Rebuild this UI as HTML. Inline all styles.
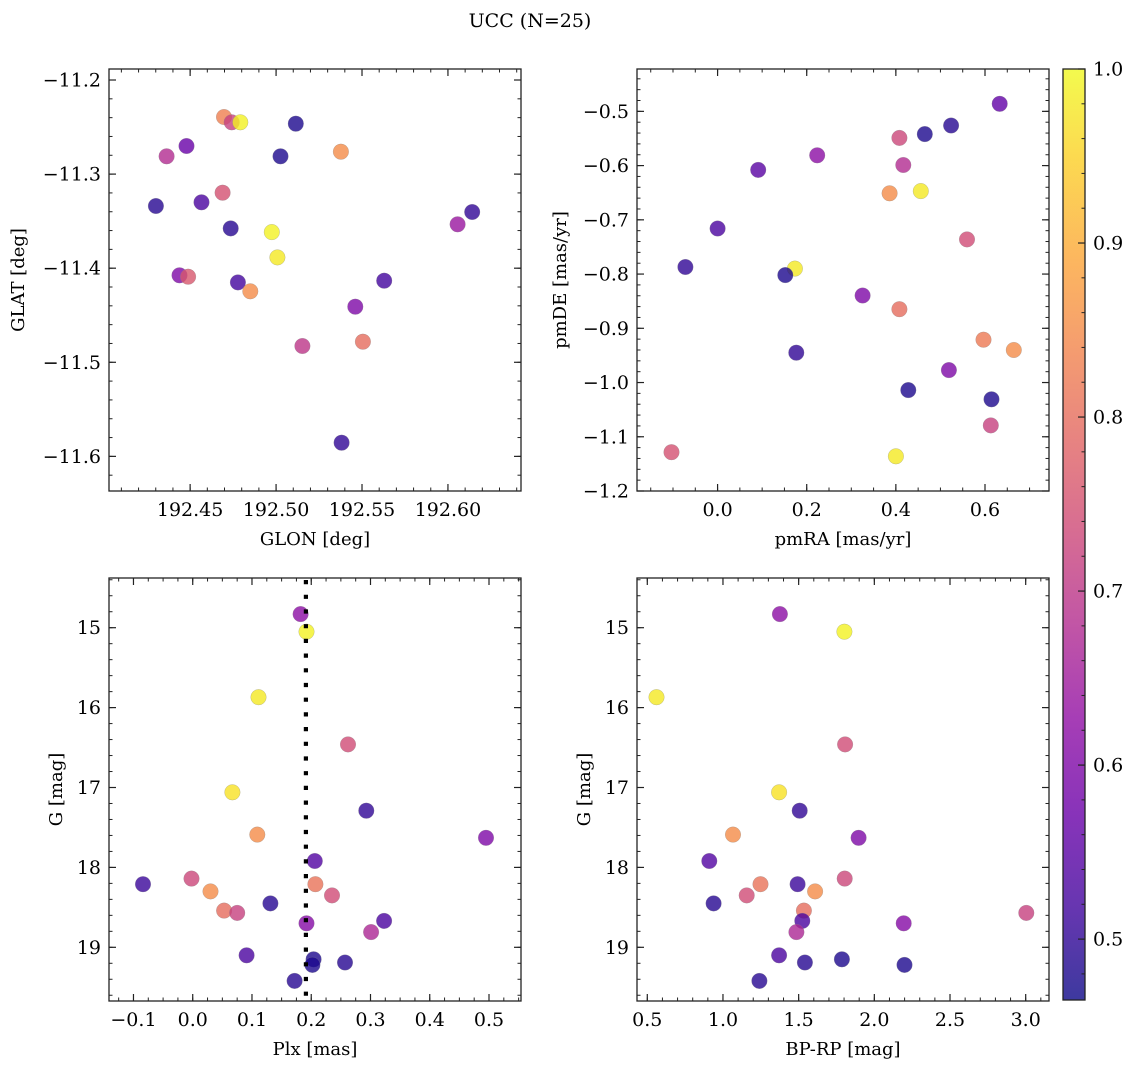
<!DOCTYPE html>
<html><head><meta charset="utf-8"><style>
html,body{margin:0;padding:0;background:#fff;}
svg{display:block;}
svg text{font-family:"DejaVu Serif","Liberation Serif",serif;}
</style></head><body>
<svg id="fig" width="1136" height="1068" viewBox="0 0 1136 1068" xmlns="http://www.w3.org/2000/svg" font-family="DejaVu Serif, Liberation Serif, serif">
<defs>
<linearGradient id="cbgrad" x1="0" y1="1" x2="0" y2="0">
<stop offset="0" stop-color="#0d0887"/><stop offset="0.1" stop-color="#41049d"/><stop offset="0.2" stop-color="#6a00a8"/><stop offset="0.3" stop-color="#8f0da4"/><stop offset="0.4" stop-color="#b12a90"/><stop offset="0.5" stop-color="#cc4778"/><stop offset="0.6" stop-color="#e16462"/><stop offset="0.7" stop-color="#f2844b"/><stop offset="0.8" stop-color="#fca636"/><stop offset="0.9" stop-color="#fcce25"/><stop offset="1" stop-color="#f0f921"/>
</linearGradient>
</defs>
<text x="530" y="27" font-size="19" text-anchor="middle">UCC (N=25)</text>
</svg>
<script>
// Panel 1: GLON / GLAT
const glon = [192.4697,192.4742,192.4792,192.5115,192.5377,192.4479,192.4363,192.5026,192.4689,192.4566,192.4301,192.6141,192.6056,192.4736,192.4975,192.5008,192.4438,192.4488,192.4778,192.4850,192.5629,192.5461,192.5153,192.5505,192.5381];
const glat = [-11.2393,-11.2450,-11.2450,-11.2464,-11.2762,-11.2701,-11.2811,-11.2811,-11.3198,-11.3300,-11.3339,-11.3403,-11.3534,-11.3577,-11.3616,-11.3885,-11.4076,-11.4090,-11.4151,-11.4246,-11.4133,-11.4409,-11.4827,-11.4781,-11.5855];
const probA = [0.83,0.72,0.99,0.48,0.85,0.57,0.68,0.48,0.75,0.53,0.49,0.50,0.64,0.49,0.99,0.98,0.60,0.76,0.52,0.85,0.52,0.60,0.70,0.80,0.50];
// Panel 2: pmRA / pmDE
const pmra = [0.633,0.524,0.465,0.408,0.2235,0.4166,0.0912,0.386,0.456,0.0,0.5596,-0.0723,0.1734,0.152,0.3254,0.408,0.1767,0.5966,0.6647,0.519,0.428,0.6146,0.613,-0.1035,0.400];
const pmde = [-0.486,-0.526,-0.542,-0.549,-0.581,-0.599,-0.608,-0.651,-0.647,-0.716,-0.736,-0.787,-0.790,-0.802,-0.8395,-0.8647,-0.945,-0.921,-0.940,-0.977,-1.014,-1.031,-1.079,-1.1285,-1.136];
const probB = [0.56,0.49,0.48,0.73,0.62,0.68,0.55,0.85,0.98,0.53,0.74,0.50,0.98,0.48,0.60,0.80,0.50,0.82,0.85,0.60,0.48,0.48,0.72,0.75,0.98];
// Panels 3 & 4: Plx / BP-RP / G
const plx = [0.182,0.192,0.111,0.262,0.067,0.293,0.495,0.109,0.206,-0.084,-0.002,0.207,0.030,0.235,0.131,0.053,0.075,0.323,0.192,0.301,0.091,0.204,0.257,0.202,0.172];
const bprp = [1.376,1.802,0.561,1.807,1.371,1.507,1.896,1.066,0.910,1.493,1.804,1.248,1.609,1.157,0.938,1.535,3.004,1.524,2.194,1.485,1.371,1.786,1.541,2.199,1.241];
const gmag = [14.83,15.05,15.87,16.46,17.06,17.29,17.63,17.59,17.92,18.21,18.14,18.21,18.30,18.35,18.45,18.54,18.57,18.67,18.70,18.81,19.10,19.15,19.19,19.22,19.42];
const probC = [0.62,0.99,0.98,0.74,0.97,0.50,0.60,0.85,0.54,0.51,0.73,0.81,0.85,0.74,0.49,0.80,0.72,0.53,0.61,0.67,0.53,0.48,0.49,0.48,0.49];
const plxLine = [0.191];
// tick labels
const ticksGlon = [192.45,192.50,192.55,192.60];
const ticksGlat = [-11.2,-11.3,-11.4,-11.5,-11.6];
const ticksPmra = [0.0,0.2,0.4,0.6];
const ticksPmde = [-0.5,-0.6,-0.7,-0.8,-0.9,-1.0,-1.1,-1.2];
const ticksPlx = [-0.1,0.0,0.1,0.2,0.3,0.4,0.5];
const ticksBprp = [0.5,1.0,1.5,2.0,2.5,3.0];
const ticksG = [15,16,17,18,19];
const ticksCb = [0.5,0.6,0.7,0.8,0.9,1.0];
const cbRange = [0.465,1.0];

const NS = "http://www.w3.org/2000/svg";
const svg = document.getElementById('fig');
const stops = ["#0d0887","#41049d","#6a00a8","#8f0da4","#b12a90","#cc4778","#e16462","#f2844b","#fca636","#fcce25","#f0f921"];
function hex(h){return [parseInt(h.slice(1,3),16),parseInt(h.slice(3,5),16),parseInt(h.slice(5,7),16)];}
function plasma(v){
  let t=(v-cbRange[0])/(cbRange[1]-cbRange[0]); t=Math.max(0,Math.min(1,t));
  const f=t*10, i=Math.min(9,Math.floor(f)), r=f-i;
  const a=hex(stops[i]), b=hex(stops[i+1]);
  return 'rgb('+a.map((c,k)=>Math.round(c+(b[k]-c)*r)).join(',')+')';
}
function el(tag,attrs,parent){const e=document.createElementNS(NS,tag);for(const k in attrs)e.setAttribute(k,attrs[k]);(parent||svg).appendChild(e);return e;}
function fmt(v,d){const s=Math.abs(v).toFixed(d);return (v<0?'\u2212':'')+s;}

function panel(c){
  const g=el('g',{});
  
  
  const sx=v=>c.x0+(v-c.xd[0])/(c.xd[1]-c.xd[0])*(c.x1-c.x0);
  const sy=c.yinv? v=>c.y0+(v-c.yd[0])/(c.yd[1]-c.yd[0])*(c.y1-c.y0)
                 : v=>c.y1-(v-c.yd[0])/(c.yd[1]-c.yd[0])*(c.y1-c.y0);
  for(let i=0;i<c.xs.length;i++){
    const p=el('circle',{cx:sx(c.xs[i]).toFixed(1),cy:sy(c.ys[i]).toFixed(1),r:7.8,fill:plasma(c.cs[i]),'fill-opacity':0.8,stroke:'#888','stroke-opacity':0.5,'stroke-width':0.5},g);
    
    
  }
  if(c.vline){
    const l=el('line',{x1:sx(c.vline[0]),x2:sx(c.vline[0]),y1:c.y0+2,y2:c.y1,stroke:'#000','stroke-width':4.2,'stroke-dasharray':'4.2 10.5'},g);
    
    
  }
  const fr=el('rect',{x:c.x0,y:c.y0,width:c.x1-c.x0,height:c.y1-c.y0,fill:'none',stroke:'#222','stroke-width':1.3},g);
  
  
  const tk=(x1,y1,x2,y2,w)=>el('line',{x1,y1,x2,y2,stroke:'#222','stroke-width':w||1},g);
  for(let v=Math.ceil(c.xd[0]/c.xm)*c.xm; v<=c.xd[1]; v+=c.xm){const x=sx(v);tk(x,c.y1,x,c.y1-3.5);tk(x,c.y0,x,c.y0+3.5);}
  const ylo=Math.min(c.yd[0],c.yd[1]), yhi=Math.max(c.yd[0],c.yd[1]);
  for(let v=Math.ceil(ylo/c.ym)*c.ym; v<=yhi; v+=c.ym){const y=sy(v);tk(c.x0,y,c.x0+3.5,y);tk(c.x1,y,c.x1-3.5,y);}
  c.xt.forEach(v=>{const x=sx(v);tk(x,c.y1,x,c.y1-7,1.2);tk(x,c.y0,x,c.y0+7,1.2);
    const t=el('text',{x:x,y:c.y1+25,'font-size':19,'text-anchor':'middle'},g);t.textContent=fmt(v,c.xdec);
    
    });
  c.yt.forEach(v=>{const y=sy(v);tk(c.x0,y,c.x0+7,y,1.2);tk(c.x1,y,c.x1-7,y,1.2);
    const t=el('text',{x:c.x0-8,y:y+6.5,'font-size':19,'text-anchor':'end'},g);t.textContent=fmt(v,c.ydec);
    
    });
  const xl=el('text',{x:(c.x0+c.x1)/2,y:c.y1+54,'font-size':18,'text-anchor':'middle'},g);xl.textContent=c.xlab;
  
  
  const cy=(c.y0+c.y1)/2;
  const yl=el('text',{x:c.ylx,y:cy,'font-size':18,'text-anchor':'middle',transform:'rotate(-90 '+c.ylx+' '+cy+')'},g);yl.textContent=c.ylab;
  
  
}

panel({name:'panel-glon-glat',x0:109,x1:521,y0:69,y1:491,xd:[192.4028,192.6425],yd:[-11.6368,-11.1883],xs:glon,ys:glat,cs:probA,xt:ticksGlon,yt:ticksGlat,xm:0.01,ym:0.02,xdec:2,ydec:1,xlab:'GLON [deg]',ylab:'GLAT [deg]',ylx:24});
panel({name:'panel-pmra-pmde',x0:637,x1:1049,y0:69,y1:491,xd:[-0.1808,0.7436],yd:[-1.2,-0.4219],xs:pmra,ys:pmde,cs:probB,xt:ticksPmra,yt:ticksPmde,xm:0.05,ym:0.02,xdec:1,ydec:1,xlab:'pmRA [mas/yr]',ylab:'pmDE [mas/yr]',ylx:566});
panel({name:'panel-plx-g',x0:109,x1:521,y0:578,y1:1001,xd:[-0.1413,0.554],yd:[14.378,19.672],yinv:true,xs:plx,ys:gmag,cs:probC,xt:ticksPlx,yt:ticksG,xm:0.025,ym:0.2,xdec:1,ydec:0,xlab:'Plx [mas]',ylab:'G [mag]',ylx:62,vline:plxLine});
panel({name:'panel-bprp-g',x0:637,x1:1049,y0:578,y1:1001,xd:[0.432,3.154],yd:[14.378,19.672],yinv:true,xs:bprp,ys:gmag,cs:probC,xt:ticksBprp,yt:ticksG,xm:0.1,ym:0.2,xdec:1,ydec:0,xlab:'BP-RP [mag]',ylab:'G [mag]',ylx:590});

(function(){
  const g=el('g',{});
  
  
  const x0=1063,x1=1085,y0=69,y1=1000;
  el('rect',{x:x0,y:y0,width:x1-x0,height:y1-y0,fill:'url(#cbgrad)','fill-opacity':0.8},g);
  el('rect',{x:x0,y:y0,width:x1-x0,height:y1-y0,fill:'none',stroke:'#222','stroke-width':1.3},g);
  const sy=v=>y1-(v-cbRange[0])/(cbRange[1]-cbRange[0])*(y1-y0);
  for(let v=0.48; v<=1.0001; v+=0.02){const y=sy(v);el('line',{x1:x1,x2:x1-3.5,y1:y,y2:y,stroke:'#222','stroke-width':1},g);}
  ticksCb.forEach(v=>{const y=sy(v);el('line',{x1:x1,x2:x1-7,y1:y,y2:y,stroke:'#222','stroke-width':1.2},g);
    const t=el('text',{x:x1+8,y:y+6.5,'font-size':19},g);t.textContent=v.toFixed(1);
    
    });
})();
</script>
</body></html>
